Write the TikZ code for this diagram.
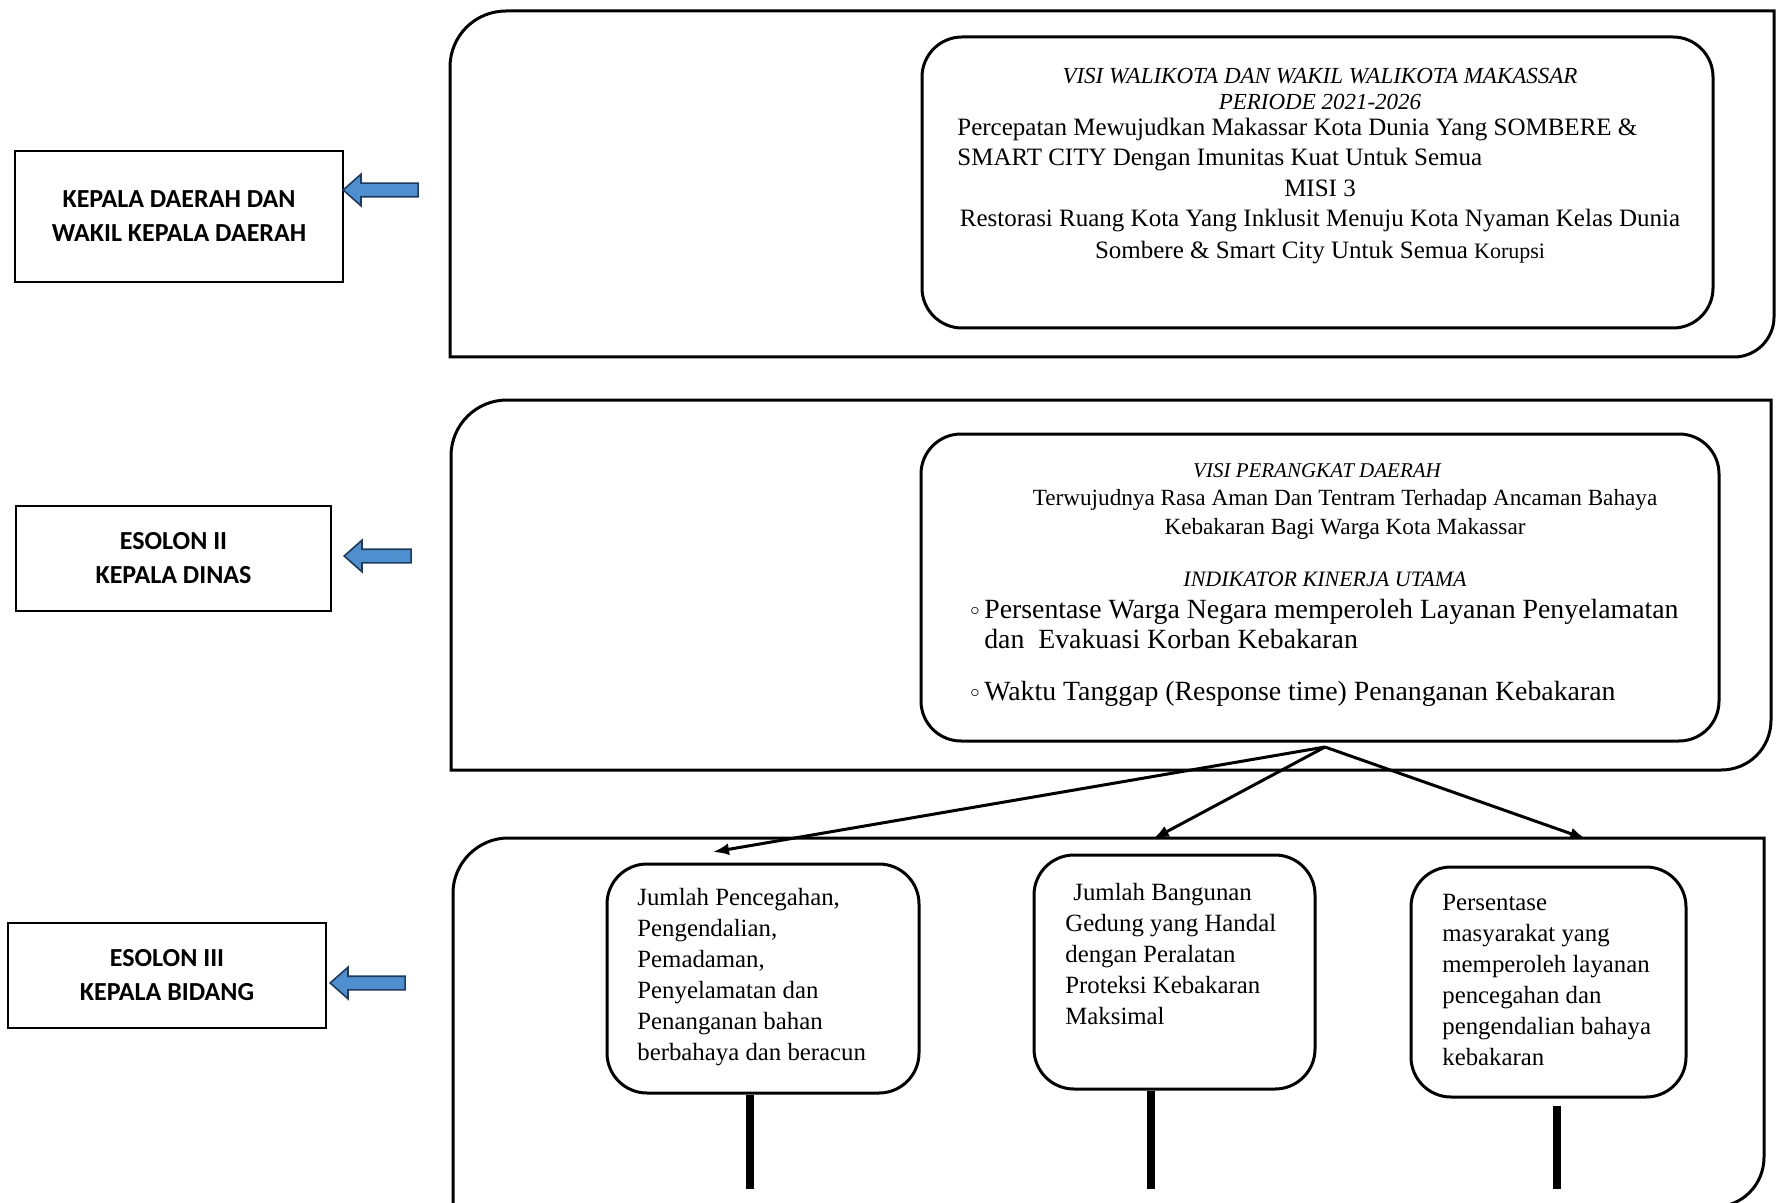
\documentclass[tikz,border=0pt]{standalone}
\usepackage{fontspec}
\setmainfont{Liberation Serif}
\newfontfamily\lvlfont{Carlito}
\usetikzlibrary{arrows.meta,shapes.arrows}
\definecolor{arrowblue}{HTML}{4F8FCF}
\definecolor{arrowedge}{HTML}{1F3A5F}

\begin{document}
\begin{tikzpicture}[x=0.5pt,y=-0.5pt,
    frame/.style={line width=1.5pt},
    lvlbox/.style={draw,line width=1.2pt,inner sep=0pt,align=center,
      font=\lvlfont\bfseries\fontsize{13}{17}\selectfont},
    rbox/.style={draw,line width=1.5pt,rounded corners=20pt,inner sep=0pt},
    bluearrow/.style={single arrow,shape border rotate=180,draw=arrowedge,
      fill=arrowblue,line width=0.8pt,inner sep=3pt,
      single arrow head extend=4.5pt,single arrow tip angle=83},
    txt/.style={inner sep=0pt},
    title/.style={txt,align=center,font=\itshape\fontsize{10.5}{13}\selectfont},
    link/.style={line width=1.5pt,-{Latex[length=8pt,width=6pt]}},
    leg/.style={line width=4pt}]

  \useasboundingbox (0,0) rectangle (1776,1203);

  % left column
  \node[lvlbox,minimum width=164pt,minimum height=65.5pt] (kd) at (179,216.5)
    {KEPALA DAERAH DAN\\WAKIL KEPALA DAERAH};
  \node[lvlbox,minimum width=157.5pt,minimum height=52.5pt] (es2) at (173.5,558.5)
    {ESOLON II\\KEPALA DINAS};
  \node[lvlbox,minimum width=159pt,minimum height=52.5pt] (es3) at (167,975.5)
    {ESOLON III\\KEPALA BIDANG};
  \node[bluearrow,minimum height=37.5pt] (ar1) at (384.5,190) {};
  \node[bluearrow,minimum height=33.5pt] (ar2) at (381.5,556) {};
  \node[bluearrow,minimum height=37.5pt] (ar3) at (371.5,983) {};

  % frames
  \draw[frame] (450,357) -- (450,67) .. controls (450,36) and (475,11) .. (506,11)
    -- (1774,11) -- (1774,317) .. controls (1774,339) and (1756,357) .. (1734,357) -- cycle;
  \draw[frame] (451,770) -- (451,456) .. controls (451,425) and (476,400) .. (507,400)
    -- (1771,400) -- (1771,720) .. controls (1771,748) and (1749,770) .. (1721,770) -- cycle;
  \draw[frame] (453,1207) -- (453,893) .. controls (453,863) and (478,838) .. (508,838)
    -- (1764,838) -- (1764,1157) .. controls (1764,1185) and (1742,1207) .. (1714,1207) -- cycle;

  % visi walikota
  \node[rbox,minimum width=395.5pt,minimum height=145.5pt] (visi) at (1317.5,182.5) {};
  \node[title,font=\itshape\fontsize{11.5}{13}\selectfont] (visi-t) at (1320,89)
    {VISI WALIKOTA DAN WAKIL WALIKOTA MAKASSAR\\PERIODE 2021-2026};
  \node[txt,anchor=west,align=left,font=\fontsize{12.5}{15}\selectfont] (visi-a) at (957,145)
    {Percepatan Mewujudkan Makassar Kota Dunia Yang SOMBERE \&\\SMART CITY Dengan Imunitas Kuat Untuk Semua};
  \node[txt,font=\fontsize{12.5}{15}\selectfont] (misi-t) at (1320,188) {MISI 3};
  \node[txt,align=center,font=\fontsize{12.5}{16}\selectfont] (misi-a) at (1320,237)
    {Restorasi Ruang Kota Yang Inklusit Menuju Kota Nyaman Kelas Dunia\\
     Sombere \& Smart City Untuk Semua {\fontsize{11}{16}\selectfont Korupsi}};

  % visi perangkat daerah
  \node[rbox,minimum width=399pt,minimum height=153.5pt] (pd) at (1320,587.5) {};
  \node[title] (pd-t) at (1317,471) {VISI PERANGKAT DAERAH};
  \node[txt,align=center,font=\fontsize{11.6}{14.5}\selectfont] (pd-a) at (1345,514.5)
    {Terwujudnya Rasa Aman Dan Tentram Terhadap Ancaman Bahaya\\Kebakaran Bagi Warga Kota Makassar};
  \node[title,font=\itshape\fontsize{11}{13}\selectfont] (iku-t) at (1325,579) {INDIKATOR KINERJA UTAMA};
  \node[txt,anchor=west,align=left,font=\fontsize{13.9}{15}\selectfont] (iku-a) at (970,624)
    {\raisebox{1.5pt}{\small$\circ$}\,Persentase Warga Negara memperoleh Layanan Penyelamatan\\
     \phantom{\small$\circ$}\,dan\ \ Evakuasi Korban Kebakaran};
  \node[txt,anchor=west,font=\fontsize{13.9}{15}\selectfont] (iku-b) at (970,694)
    {\raisebox{1.5pt}{\small$\circ$}\,Waktu Tanggap (Response time) Penanganan Kebakaran};

  % kepala bidang
  \node[rbox,minimum width=156pt,minimum height=114.5pt] (kA) at (763,978.5) {};
  \node[rbox,minimum width=140.5pt,minimum height=117pt] (kB) at (1174.5,972) {};
  \node[rbox,minimum width=137.5pt,minimum height=115pt] (kC) at (1548.5,982) {};
  \node[txt,anchor=west,align=left,font=\fontsize{12.4}{15.5}\selectfont] (kA-t) at (637,977.5)
    {Jumlah Pencegahan,\\Pengendalian,\\Pemadaman,\\Penyelamatan dan\\Penanganan bahan\\berbahaya dan beracun};
  \node[txt,anchor=west,align=left,font=\fontsize{12.4}{15.5}\selectfont] (kB-t) at (1065,954.5)
    {\hspace*{4pt}Jumlah Bangunan\\Gedung yang Handal\\dengan Peralatan\\Proteksi Kebakaran\\Maksimal};
  \node[txt,anchor=west,align=left,font=\fontsize{12.4}{15.5}\selectfont] (kC-t) at (1442,980)
    {Persentase\\masyarakat yang\\memperoleh layanan\\pencegahan dan\\pengendalian bahaya\\kebakaran};

  % connectors
  \coordinate (fork) at (1325,747);
  \coordinate (inA) at (713,852);
  \coordinate (inB) at (1153,839);
  \coordinate (inC) at (1586,839);
  \draw[link] (fork) -- (inA);
  \draw[link] (fork) -- (inB);
  \draw[link] (fork) -- (inC);

  \coordinate (legA) at (750,1189);
  \coordinate (legB) at (1151,1189);
  \coordinate (legC) at (1557,1189);
  \draw[leg] (legA |- kA.south) -- (legA);
  \draw[leg] (legB |- kB.south) -- (legB);
  \draw[leg] ([yshift=-3.5pt]legC |- kC.south) -- (legC);
\end{tikzpicture}
\end{document}
